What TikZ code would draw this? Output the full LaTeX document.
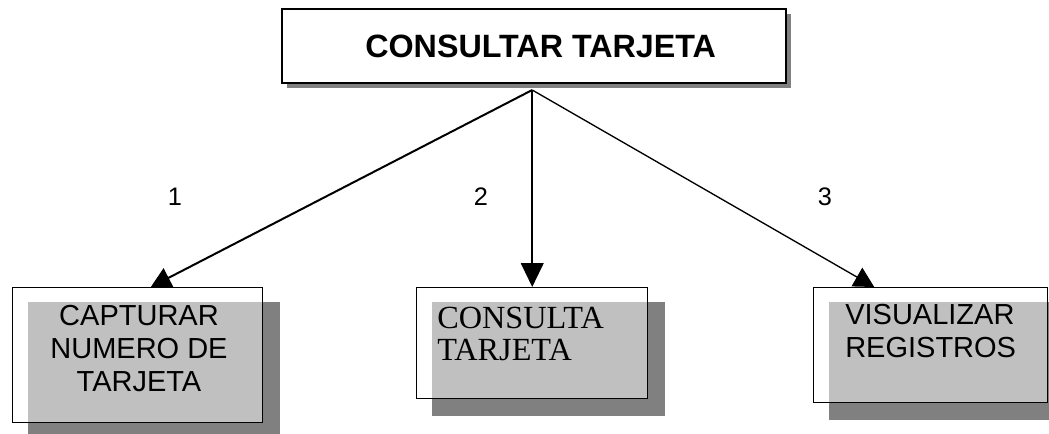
\documentclass[tikz,border=0pt]{standalone}
\usepackage{fontspec}
\setmainfont{Liberation Sans}
\newfontfamily\tjserif{Liberation Serif}
\usetikzlibrary{arrows.meta, positioning, calc, shadows, backgrounds}
\definecolor{tjsombra}{RGB}{128,128,128}
\definecolor{tjrelleno}{RGB}{192,192,192}
\tikzset{
    titulo/.style={draw, line width=1.5pt, fill=white, minimum width=378pt, minimum height=55.5pt,
                   font=\fontsize{24.2}{28}\selectfont\bfseries,
                   drop shadow={shadow xshift=4pt, shadow yshift=-4pt, fill=tjsombra, opacity=1}},
    caja/.style={draw, line width=1.1pt, anchor=north west, inner sep=0pt},
    texto/.style={font=\fontsize{21.75}{24.75}\selectfont, align=center, inner sep=0pt},
    textoserif/.style={font=\tjserif\fontsize{24.2}{24}\selectfont, align=left, inner sep=0pt, anchor=west},
    flecha/.style={-{Triangle[length=15pt, width=16pt]}, line width=1.5pt},
    num/.style={font=\fontsize{19}{22}\selectfont, inner sep=0pt},
}

\begin{document}
\begin{tikzpicture}[x=0.75pt, y=-0.75pt]
    \useasboundingbox (0,0) rectangle (1049,433);
    \node[titulo] (consultar) at (534,46) {\hspace*{10pt}CONSULTAR TARJETA};
    % cajas inferiores
    \node[caja, minimum width=187.5pt, minimum height=101.25pt] (capturar) at (12,287) {};
    \node[caja, minimum width=173.25pt, minimum height=83.25pt] (consulta) at (416,287) {};
    \node[caja, minimum width=175.5pt, minimum height=86.25pt] (visualizar) at (813,287) {};
    \node[texto] (capturar-t) at (139,349) {CAPTURAR\\NUMERO DE\\TARJETA};
    \node[textoserif] (consulta-t) at (437,334) {CONSULTA\\TARJETA};
    \node[texto, align=left, anchor=west] (visualizar-t) at (845,331.5) {VISUALIZAR\\REGISTROS};
    % relleno gris y sombra
    \begin{scope}[on background layer]
        \fill[white] (0,0) rectangle (1049,433);
        \foreach \c in {capturar, consulta, visualizar} {
            \fill[tjsombra] ([shift={(16,15)}]\c.north west) rectangle ([shift={(17,17)}]\c.south east);
            \fill[tjrelleno] ([shift={(16,15)}]\c.north west) rectangle (\c.south east);
        }
    \end{scope}
    % conectores
    \coordinate (raiz) at ($(consultar.south -| consulta.north)+(0,6)$);
    \draw[flecha] (raiz) -- ($(capturar.north west)!0.552!(capturar.north east)$);
    \draw[flecha, -{Triangle[length=18pt, width=17pt]}] (raiz) -- (consulta.north);
    \draw[flecha, line width=1pt] (raiz) -- ($(visualizar.north west)!0.26!(visualizar.north east)$);
    \node[num] (n1) at (175,197) {1};
    \node[num] (n2) at (481,197) {2};
    \node[num] (n3) at (825,197) {3};
\end{tikzpicture}
\end{document}
